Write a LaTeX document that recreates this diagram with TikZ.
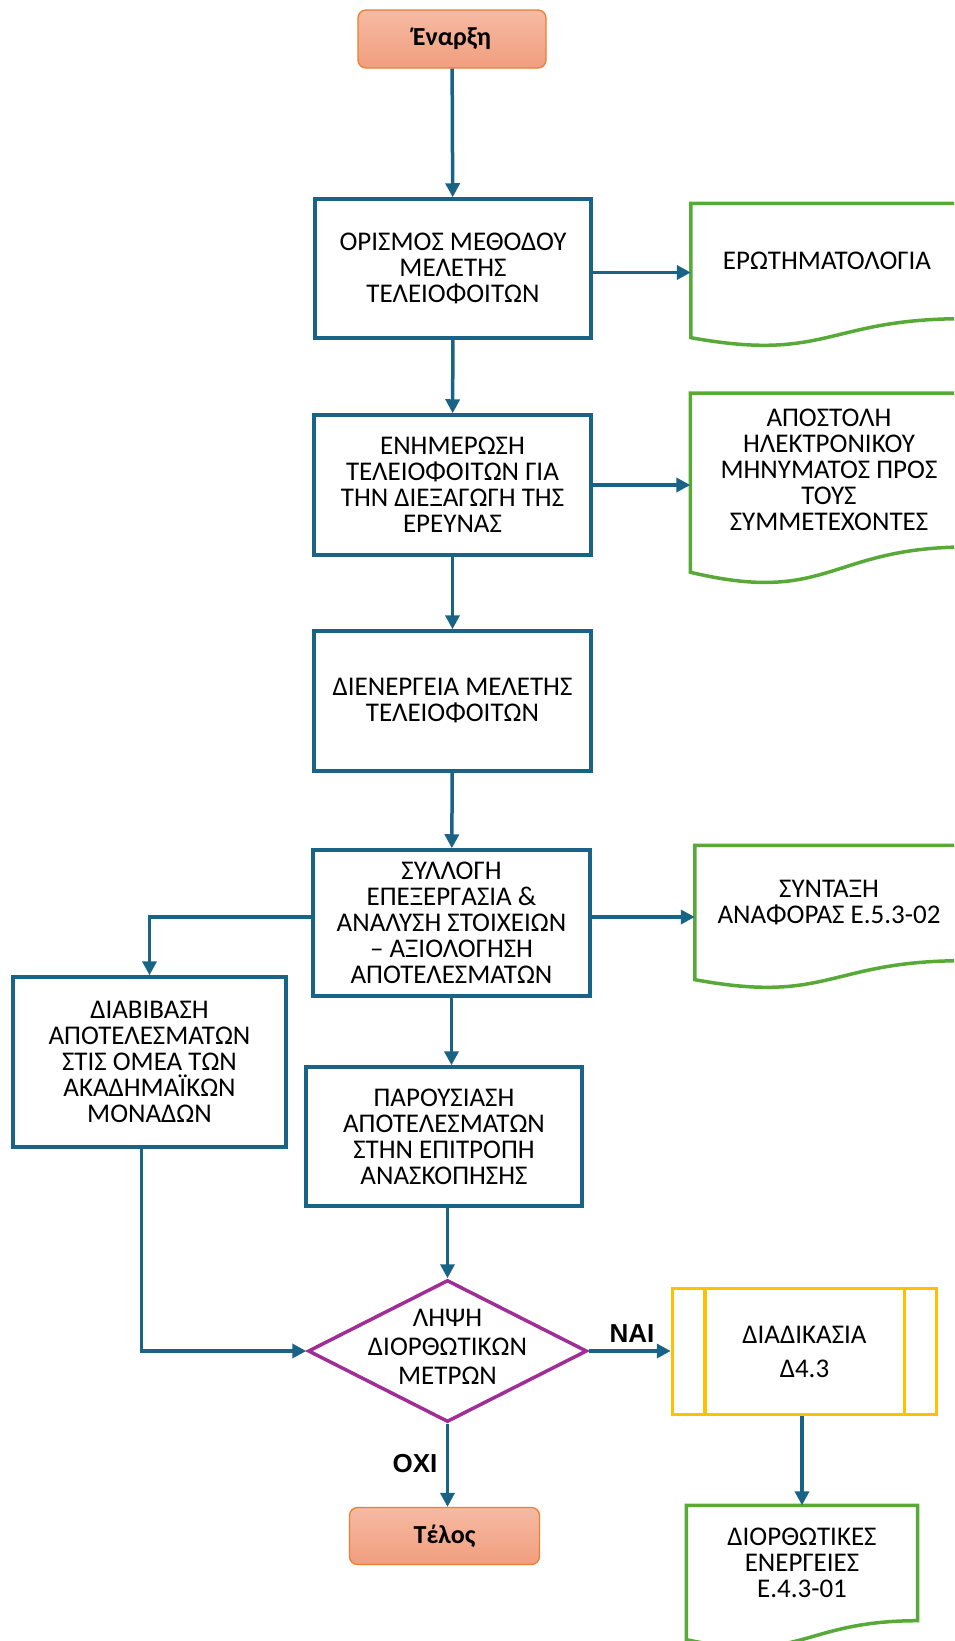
\documentclass[tikz,border=0pt]{standalone}
\usepackage{fontspec}
\setmainfont{Carlito}
\newfontfamily\labelfont{Liberation Sans}
\usetikzlibrary{shapes.geometric,arrows.meta,calc}

\definecolor{flowblue}{RGB}{25,99,135}
\definecolor{docgreen}{RGB}{88,170,56}
\definecolor{decpurple}{RGB}{160,46,150}
\definecolor{procyellow}{RGB}{255,192,0}
\definecolor{termedge}{RGB}{237,125,49}
\definecolor{termtop}{RGB}{246,186,163}
\definecolor{termbottom}{RGB}{241,158,126}

% wavy-bottom document outline around a text node; #2 = full height of the shape
\newcommand\docoutline[2]{%
  \draw[docline] ($(#1.south west)+(0,0.132*#2)$) -- (#1.north west) -- (#1.north east)
    -- (#1.south east)
    .. controls (#1.south) and ($(#1.south)+(0,0.3055*#2)$) ..
    ($(#1.south west)+(0,0.132*#2)$) -- cycle;}

\tikzset{
  bodytext/.style={font=\fontsize{27}{26}\selectfont, align=center, inner sep=0pt},
  stepbox/.style={bodytext, draw=flowblue, line width=3.5pt, fill=white},
  doctext/.style={bodytext},
  docline/.style={draw=docgreen, line width=3.5pt, line join=miter},
  terminal/.style={draw=termedge, line width=1.3pt, rounded corners=8pt,
    top color=termtop, bottom color=termbottom,
    font=\fontsize{26}{28}\selectfont\bfseries, inner sep=0pt},
  decshape/.style={diamond, draw=decpurple, line width=3.5pt, inner sep=0pt, fill=white},
  procbox/.style={bodytext, draw=procyellow, line width=3.5pt, fill=white},
  procline/.style={draw=procyellow, line width=3.5pt},
  wire/.style={draw=flowblue, line width=3.5pt, -{Triangle[length=14pt,width=14pt]}},
  branchlabel/.style={font=\labelfont\fontsize{26}{28}\selectfont\bfseries, inner sep=0pt},
}

\begin{document}
\begin{tikzpicture}[x=1pt, y=-1pt]
\useasboundingbox (0,0) rectangle (954,1641);
\clip (0,0) rectangle (954,1641);

% main column
\node[terminal, minimum width=188, minimum height=58] (start) at (452,39) {Έναρξη};
\node[stepbox, minimum width=276, minimum height=139] (b1) at (453,268.5)
  {ΟΡΙΣΜΟΣ ΜΕΘΟΔΟΥ\\ΜΕΛΕΤΗΣ\\ΤΕΛΕΙΟΦΟΙΤΩΝ};
\node[stepbox, minimum width=277, minimum height=140] (b2) at (452.5,485)
  {ΕΝΗΜΕΡΩΣΗ\\ΤΕΛΕΙΟΦΟΙΤΩΝ ΓΙΑ\\ΤΗΝ ΔΙΕΞΑΓΩΓΗ ΤΗΣ\\ΕΡΕΥΝΑΣ};
\node[stepbox, minimum width=277, minimum height=140] (b3) at (452.5,701)
  {ΔΙΕΝΕΡΓΕΙΑ ΜΕΛΕΤΗΣ\\ΤΕΛΕΙΟΦΟΙΤΩΝ};
\node[stepbox, minimum width=277, minimum height=146] (b4) at (451.5,923)
  {ΣΥΛΛΟΓΗ\\ΕΠΕΞΕΡΓΑΣΙΑ \&\\ΑΝΑΛΥΣΗ ΣΤΟΙΧΕΙΩΝ\\– ΑΞΙΟΛΟΓΗΣΗ\\ΑΠΟΤΕΛΕΣΜΑΤΩΝ};
\node[stepbox, minimum width=273, minimum height=170] (lb) at (149.5,1062)
  {ΔΙΑΒΙΒΑΣΗ\\ΑΠΟΤΕΛΕΣΜΑΤΩΝ\\ΣΤΙΣ ΟΜΕΑ ΤΩΝ\\ΑΚΑΔΗΜΑΪΚΩΝ\\ΜΟΝΑΔΩΝ};
\node[stepbox, minimum width=276, minimum height=139] (b5) at (444,1136.5)
  {ΠΑΡΟΥΣΙΑΣΗ\\ΑΠΟΤΕΛΕΣΜΑΤΩΝ\\ΣΤΗΝ ΕΠΙΤΡΟΠΗ\\ΑΝΑΣΚΟΠΗΣΗΣ};

% decision
\node[decshape, minimum width=279, minimum height=142] (dec) at (447.5,1351) {};
\node[bodytext] (dectext) at (447.5,1347) {ΛΗΨΗ\\[3pt]ΔΙΟΡΘΩΤΙΚΩΝ\\[3pt]ΜΕΤΡΩΝ};

% predefined process
\node[procbox, minimum width=264, minimum height=126] (proc) at (804.5,1351.5)
  {ΔΙΑΔΙΚΑΣΙΑ\\[8pt]Δ4.3};
\draw[procline] ([xshift=34pt]proc.north west) -- ([xshift=34pt]proc.south west);
\draw[procline] ([xshift=-34pt]proc.north east) -- ([xshift=-34pt]proc.south east);

\node[terminal, minimum width=190, minimum height=57] (end) at (444.5,1536) {Τέλος};

% documents
\node[doctext, minimum width=272, minimum height=115] (d1) at (827,261) {ΕΡΩΤΗΜΑΤΟΛΟΓΙΑ};
\docoutline{d1}{143.5}
\node[doctext, minimum width=277, minimum height=153.5] (d2) at (829,470)
  {ΑΠΟΣΤΟΛΗ\\ΗΛΕΚΤΡΟΝΙΚΟΥ\\ΜΗΝΥΜΑΤΟΣ ΠΡΟΣ\\ΤΟΥΣ\\ΣΥΜΜΕΤΕΧΟΝΤΕΣ};
\docoutline{d2}{191.5}
\node[doctext, minimum width=268, minimum height=115] (d3) at (829,903)
  {ΣΥΝΤΑΞΗ\\ΑΝΑΦΟΡΑΣ Ε.5.3-02};
\docoutline{d3}{143.5}
\node[doctext, minimum width=231, minimum height=115] (d4) at (802,1563)
  {ΔΙΟΡΘΩΤΙΚΕΣ\\ΕΝΕΡΓΕΙΕΣ\\Ε.4.3-01};
\docoutline{d4}{143.5}

% connectors
\draw[wire] (start) -- (b1);
\draw[wire] ([yshift=-4pt]b1.east) -- ([yshift=-4pt]b1.east -| d1.west);
\draw[wire] (b1) -- (b2);
\draw[wire] (b2.east) -- (b2.east -| d2.west);
\draw[wire] (b2) -- (b3);
\draw[wire] (b3) -- (b4);
\draw[wire] ([yshift=6pt]b4.east) -- ([yshift=6pt]b4.east -| d3.west);
\draw[wire] ([yshift=6pt]b4.west) -| (lb.north);
\draw[wire] (b4.south) -- (b4.south |- b5.north);
\draw[wire] (dec.north |- b5.south) -- (dec.north);
\draw[wire] ([xshift=-8pt]lb.south) |- (dec.west);
\draw[wire] (dec.east) -- (dec.east -| proc.west);
\draw[wire] (d4.north |- proc.south) -- (d4.north);
\draw[wire] (dec.south) -- (dec.south |- end.north);

% branch labels
\node[branchlabel] (yes) at (632,1334) {ΝΑΙ};
\node[branchlabel] (no) at (415,1464) {ΟΧΙ};
\end{tikzpicture}
\end{document}
